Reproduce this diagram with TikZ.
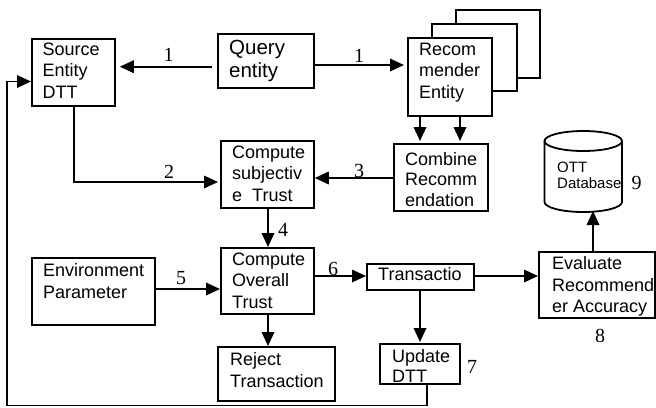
\documentclass[tikz,border=0pt]{standalone}
\usepackage{fontspec}
\setmainfont{Liberation Sans}
\newfontfamily\numfont{Liberation Serif}
\usetikzlibrary{arrows.meta,calc}
\begin{document}
\begin{tikzpicture}[x=1pt,y=-1pt,
  box/.style={draw, line width=1.8pt, fill=white, inner sep=0, anchor=north west},
  txt/.style={anchor=north west, inner sep=0, align=left, font=\fontsize{18}{21.5}\selectfont},
  num/.style={font=\numfont\fontsize{20}{21}\selectfont, inner sep=0},
  conn/.style={line width=1.8pt},
  arr/.style={conn, -{Triangle[length=14pt,width=12.5pt]}},
]
\useasboundingbox[fill=white] (0,0) rectangle (656,407);

% boxes
\node[box, minimum width=83pt, minimum height=67pt] (src) at (31,38) {};
\node[box, minimum width=96pt, minimum height=54pt] (qe) at (217,33) {};
\node[box, minimum width=84pt, minimum height=68pt] (rec3) at (455,9) {};
\node[box, minimum width=85pt, minimum height=67pt] (rec2) at (431,23) {};
\node[box, minimum width=84pt, minimum height=78pt] (rec) at (407,37) {};
\node[box, minimum width=93pt, minimum height=67pt] (csub) at (220,140) {};
\node[box, minimum width=94pt, minimum height=67pt] (comb) at (393,143) {};
\node[box, minimum width=123pt, minimum height=67pt] (env) at (31,257) {};
\node[box, minimum width=93pt, minimum height=66pt] (ovr) at (220,247) {};
\node[box, minimum width=117pt, minimum height=54pt] (rej) at (217,346) {};
\node[box, minimum width=107pt, minimum height=26pt] (tra) at (366,263) {};
\node[box, minimum width=116pt, minimum height=66pt] (eva) at (538,251) {};
\node[box, minimum width=80pt, minimum height=40pt] (upd) at (379,343) {};

% database cylinder
\draw[conn, fill=white] (544.5,141) -- (544.5,202) arc[start angle=180, end angle=360, x radius=38.75pt, y radius=10pt] -- (622,141);
\draw[conn] (583.25,141) ellipse[x radius=38.75pt, y radius=10pt];
\coordinate (dbb) at (593,211);

% texts
\node[txt] (src-t) at (42.5,42.5) {Source\\Entity\\DTT};
\node[txt, font=\fontsize{20.5}{23}\selectfont] (qe-t) at (229,40) {Query\\entity};
\node[txt] (rec-t) at (419,42.5) {Recom\\mender\\Entity};
\node[txt] (csub-t) at (232,145.5) {Compute\\subjectiv\\e~~Trust};
\node[txt, font=\fontsize{18}{20.5}\selectfont] (comb-t) at (405,152) {Combine\\Recomm\\endation};
\node[txt, font=\fontsize{15}{15.5}\selectfont] (db-t) at (557,162) {OTT\\Database};
\node[txt, font=\fontsize{18}{22}\selectfont] (env-t) at (43,263) {Environment\\Parameter};
\node[txt] (ovr-t) at (232,252.5) {Compute\\Overall\\Trust};
\node[txt] (rej-t) at (230,352.5) {Reject\\Transaction};
\node[txt] (tra-t) at (378,267.5) {Transactio};
\node[txt] (eva-t) at (552,256.5) {Evaluate\\Recommend\\er Accuracy};
\node[txt, font=\fontsize{18}{20}\selectfont] (upd-t) at (392,349.5) {Update\\DTT};

% connectors
\draw[arr, shorten <=5pt, shorten >=4pt] (qe.west |- 0,66.7) -- (src.east |- 0,66.7);
\draw[arr, shorten >=3pt] (qe.east |- 0,65) -- (rec.west |- 0,65);
\draw[arr, shorten >=2pt] (src.south -| 74,0) -- (74,182) -- (csub.west |- 0,182);
\draw[arr, shorten >=2pt] (rec.south -| 420,0) -- (comb.north -| 420,0);
\draw[arr, shorten >=2pt] (rec.south -| 460,0) -- (comb.north -| 460,0);
\draw[arr] (comb.west |- 0,178) -- (csub.east |- 0,178);
\draw[arr] (csub.south -| 268,0) -- (ovr.north -| 268,0);
\draw[arr] (env.east |- 0,289) -- (ovr.west |- 0,289);
\draw[arr] (ovr.south -| 268,0) -- (rej.north -| 268,0);
\draw[arr] (ovr.east |- 0,276) -- (tra.west |- 0,276);
\draw[arr] (tra.east |- 0,276) -- (eva.west |- 0,276);
\draw[arr] (eva.north -| 593,0) -- (dbb);
\draw[arr, shorten >=1pt] (tra.south -| 420,0) -- (upd.north -| 420,0);
\draw[arr] (upd.south -| 427,0) -- (427,405.5) -- (7,405.5) -- (7,81.5) -- (src.west |- 0,81.5);

% numbers
\node[num] (n1a) at (168.5,54.5) {1};
\node[num] (n1b) at (359,55.5) {1};
\node[num] (n2) at (169,171.5) {2};
\node[num] (n3) at (359,171) {3};
\node[num] (n4) at (283,229.5) {4};
\node[num] (n5) at (181,278) {5};
\node[num] (n6) at (333,269) {6};
\node[num] (n7) at (472,367) {7};
\node[num] (n8) at (600,336) {8};
\node[num] (n9) at (636.5,183) {9};
\end{tikzpicture}
\end{document}
